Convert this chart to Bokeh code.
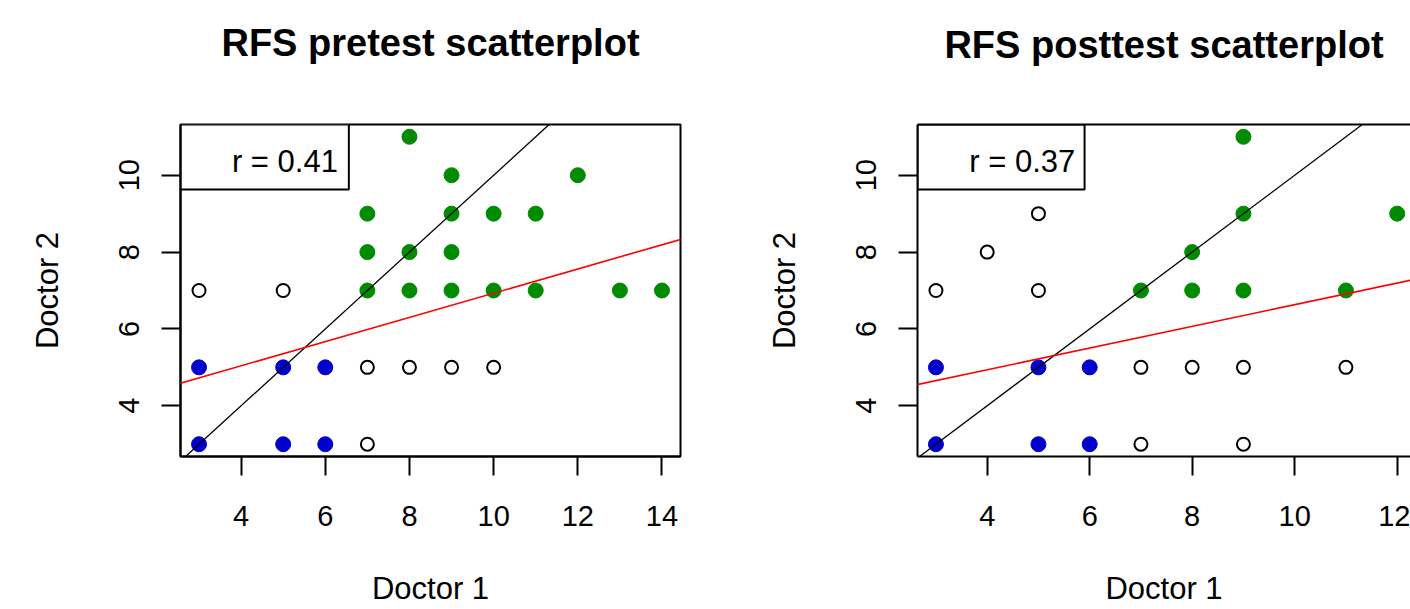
from bokeh.plotting import figure
from bokeh.layouts import row
from bokeh.models import Slope, Range1d, FixedTicker, LinearAxis, Title
from bokeh.core.properties import value
from bokeh.embed import file_html
from bokeh.resources import INLINE

# ---------------- data ----------------
# Pretest
pre_open_x = [3, 5, 7, 8, 9, 10, 7]
pre_open_y = [7, 7, 5, 5, 5, 5, 3]
pre_blue_x = [3, 5, 6, 3, 5, 6]
pre_blue_y = [5, 5, 5, 3, 3, 3]
pre_green_x = [8, 9, 12, 7, 9, 10, 11, 7, 8, 9, 7, 8, 9, 10, 11, 13, 14]
pre_green_y = [11, 10, 10, 9, 9, 9, 9, 8, 8, 8, 7, 7, 7, 7, 7, 7, 7]
pre_intercept = 3.78
pre_slope = 0.315
pre_r_label = "r = 0.41"

# Posttest
post_open_x = [5, 4, 3, 5, 7, 8, 9, 11, 7, 9]
post_open_y = [9, 8, 7, 7, 5, 5, 5, 5, 3, 3]
post_blue_x = [3, 5, 6, 3, 5, 6]
post_blue_y = [5, 5, 5, 3, 3, 3]
post_green_x = [9, 9, 12, 8, 7, 8, 9, 11]
post_green_y = [11, 9, 9, 8, 7, 7, 7, 7]
post_intercept = 3.81
post_slope = 0.282
post_r_label = "r = 0.37"

pre_xticks = [4, 6, 8, 10, 12, 14]
post_xticks = [4, 6, 8, 10, 12]
yticks = [4, 6, 8, 10]

FONT = "Liberation Sans"
GREEN = "#008B00"
BLUE = "#0000CD"

Y_RANGE = (2.68, 11.32)


def panel(title, width, border_right, xr, xticks, ox, oy, bx, by,
          gx, gy, icpt, slope, rlabel, box_right, text_x, outline=True,
          spacer=58):
    p = figure(width=width, height=609, x_range=Range1d(*xr),
               y_range=Range1d(*Y_RANGE), output_backend="svg",
               toolbar_location=None, min_border_left=180,
               min_border_right=border_right, min_border_top=124,
               min_border_bottom=153)
    p.background_fill_color = "white"
    p.border_fill_color = "white"
    p.grid.visible = False

    p.xaxis.ticker = FixedTicker(ticks=xticks)
    p.yaxis.ticker = FixedTicker(ticks=yticks)
    p.xaxis.axis_label = "Doctor 1"
    p.yaxis.axis_label = "Doctor 2"
    for ax in (p.xaxis, p.yaxis):
        ax.axis_line_color = "black"
        ax.axis_line_width = 2
        ax.major_tick_line_color = "black"
        ax.major_tick_line_width = 2
        ax.major_tick_in = 0
        ax.major_tick_out = 19
        ax.minor_tick_line_color = None
        ax.major_label_text_font = FONT
        ax.major_label_text_font_size = "29px"
        ax.major_label_text_color = "black"
        ax.axis_label_text_font = FONT
        ax.axis_label_text_font_size = "31px"
        ax.axis_label_text_font_style = "normal"
        ax.axis_label_text_color = "black"
    p.xaxis.major_label_standoff = 30
    p.xaxis.axis_label_standoff = 42
    p.yaxis.major_label_standoff = 22
    p.yaxis.axis_label_standoff = 52
    p.yaxis.major_label_orientation = "vertical"

    if outline:
        p.outline_line_color = "black"
        p.outline_line_width = 2
    else:
        p.outline_line_color = None
        top = LinearAxis(ticker=FixedTicker(ticks=[]),
                         major_tick_line_color=None,
                         minor_tick_line_color=None,
                         major_label_text_font_size="0px",
                         major_tick_out=0, major_tick_in=0, minor_tick_out=0,
                         minor_tick_in=0, major_label_standoff=0,
                         axis_line_color="black", axis_line_width=2)
        p.add_layout(top, "above")

    # spacer + title stacked above the frame
    p.add_layout(Title(text=" ", text_font_size="1px", standoff=spacer),
                 "above")
    p.add_layout(Title(text=title, align="center", text_font=FONT,
                       text_font_size="38px", text_font_style="bold",
                       text_color="black", standoff=0), "above")

    # legend-like box
    p.quad(left=[xr[0]], right=[box_right], bottom=[9.63], top=[Y_RANGE[1]],
           fill_color="white", line_color="black", line_width=2)
    p.text(x=[text_x], y=[10.37], text=[rlabel], text_align="right",
           text_baseline="middle", text_font=value(FONT),
           text_font_size="31px", text_color="black")

    p.scatter(ox, oy, marker="circle", size=13, fill_color=None,
              line_color="black", line_width=2)
    p.scatter(bx, by, marker="circle", size=15, fill_color=BLUE,
              line_color=BLUE)
    p.scatter(gx, gy, marker="circle", size=15, fill_color=GREEN,
              line_color=GREEN)

    p.add_layout(Slope(gradient=1, y_intercept=0, line_color="black",
                       line_width=1.3))
    p.add_layout(Slope(gradient=slope, y_intercept=icpt, line_color="red",
                       line_width=1.6))
    return p


p1 = panel("RFS pretest scatterplot", 737, 57, (2.56, 14.44),
           pre_xticks, pre_open_x, pre_open_y, pre_blue_x, pre_blue_y,
           pre_green_x, pre_green_y, pre_intercept, pre_slope, pre_r_label,
           6.56, 6.30)
p2 = panel("RFS posttest scatterplot", 673, 0, (2.64, 12.26),
           post_xticks, post_open_x, post_open_y, post_blue_x, post_blue_y,
           post_green_x, post_green_y, post_intercept, post_slope,
           post_r_label, 5.90, 5.72, outline=False, spacer=56)

layout = row(p1, p2)
open("out.html", "w").write(file_html(layout, INLINE))
